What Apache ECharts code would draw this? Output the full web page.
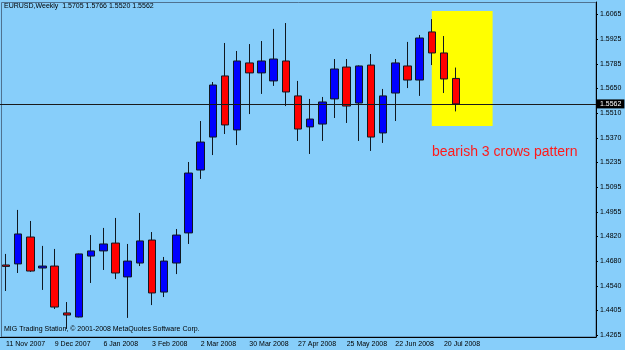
<!DOCTYPE html>
<html>
<head>
    <meta charset="utf-8">
    <style>
        html, body {
            width: 100%;
            height: 100%;
            margin: 0;
            background: #87cefa;
        }

        #chart-panel {
            width: 625px;
            height: 350px;
        }
    </style>
    <script src="https://cdn.jsdelivr.net/npm/echarts@6/dist/echarts.min.js"></script>
</head>
<body>
<div id="chart-panel"></div>
<script type="text/javascript">

  // weekly bars, EURUSD
  var weeks = ['11 Nov 2007', '18 Nov 2007', '25 Nov 2007', '2 Dec 2007', '9 Dec 2007', '16 Dec 2007',
    '23 Dec 2007', '30 Dec 2007', '6 Jan 2008', '13 Jan 2008', '20 Jan 2008', '27 Jan 2008',
    '3 Feb 2008', '10 Feb 2008', '17 Feb 2008', '24 Feb 2008', '2 Mar 2008', '9 Mar 2008',
    '16 Mar 2008', '23 Mar 2008', '30 Mar 2008', '6 Apr 2008', '13 Apr 2008', '20 Apr 2008',
    '27 Apr 2008', '4 May 2008', '11 May 2008', '18 May 2008', '25 May 2008', '1 Jun 2008',
    '8 Jun 2008', '15 Jun 2008', '22 Jun 2008', '29 Jun 2008', '6 Jul 2008', '13 Jul 2008',
    '20 Jul 2008', '27 Jul 2008'];
  // empty weeks on the right (chart shift)
  var emptyWeeks = ['3 Aug 2008', '10 Aug 2008', '17 Aug 2008', '24 Aug 2008', '31 Aug 2008',
    '7 Sep 2008', '14 Sep 2008', '21 Sep 2008', '28 Sep 2008', '5 Oct 2008', '12 Oct 2008'];

  var opens = [1.4658, 1.4664, 1.4815, 1.4641, 1.4652, 1.4389, 1.4366, 1.4708, 1.4737, 1.4781,
    1.4591, 1.4669, 1.4798, 1.4506, 1.4669, 1.4838, 1.5191, 1.5376, 1.5719, 1.5416,
    1.5792, 1.5736, 1.5691, 1.5803, 1.5607, 1.5433, 1.5449, 1.5590, 1.5769, 1.5567,
    1.5780, 1.5399, 1.5623, 1.5775, 1.5696, 1.5966, 1.5848, 1.5705];
  var highs = [1.4720, 1.4967, 1.4905, 1.4765, 1.4748, 1.4450, 1.4722, 1.4826, 1.4866, 1.4922,
    1.4776, 1.4950, 1.4843, 1.4703, 1.4860, 1.5236, 1.5466, 1.5685, 1.5904, 1.5859,
    1.5898, 1.5915, 1.5983, 1.6016, 1.5691, 1.5590, 1.5601, 1.5814, 1.5814, 1.5778,
    1.5842, 1.5646, 1.5814, 1.5910, 1.5949, 1.6038, 1.5943, 1.5766];
  var lows = [1.4512, 1.4613, 1.4619, 1.4518, 1.4411, 1.4299, 1.4364, 1.4557, 1.4630, 1.4579,
    1.4361, 1.4652, 1.4433, 1.4478, 1.4607, 1.4776, 1.5141, 1.5275, 1.5393, 1.5331,
    1.5505, 1.5618, 1.5663, 1.5550, 1.5354, 1.5281, 1.5354, 1.5483, 1.5455, 1.5354,
    1.5298, 1.5343, 1.5466, 1.5651, 1.5607, 1.5780, 1.5623, 1.5520];
  var closes = [1.4650, 1.4832, 1.4624, 1.4652, 1.4422, 1.4377, 1.4720, 1.4737, 1.4776, 1.4613,
    1.4680, 1.4793, 1.4501, 1.4680, 1.4826, 1.5174, 1.5348, 1.5668, 1.5444, 1.5803,
    1.5736, 1.5803, 1.5814, 1.5629, 1.5421, 1.5477, 1.5573, 1.5758, 1.5550, 1.5775,
    1.5376, 1.5607, 1.5792, 1.5696, 1.5932, 1.5848, 1.5702, 1.5562];

  var priceTicks = [1.4265, 1.4405, 1.4540, 1.4680, 1.4820, 1.4955, 1.5095, 1.5235,
    1.5370, 1.5510, 1.5650, 1.5785, 1.5925, 1.6065];
  var bidPrice = 1.5562;
  // yellow box: from week 35 to week 40, price range
  var boxWeeks = [35, 40];
  var boxPrices = [1.6084, 1.5438];

  var allWeeks = weeks.concat(emptyWeeks);
  var candles = weeks.map(function (w, i) {
    return [opens[i], closes[i], lows[i], highs[i]];
  });
  var last = weeks.length - 1;

  function showDate(idx) {
    return idx % 4 === 0 && idx < weeks.length;
  }

  var font = 'Liberation Sans';
  var myChart = echarts.init(document.getElementById('chart-panel'));

  var option = {
    backgroundColor: '#87cefa',
    animation: false,
    textStyle: {fontFamily: font},
    grid: {
      left: -3,
      right: 29,
      top: 2,
      bottom: 13
    },
    xAxis: {
      type: 'category',
      data: allWeeks,
      boundaryGap: true,
      axisLine: {lineStyle: {color: '#000', width: 1}},
      axisTick: {
        alignWithLabel: true,
        length: 3,
        interval: showDate,
        lineStyle: {color: '#000'}
      },
      axisLabel: {
        interval: showDate,
        align: 'left',
        margin: 4,
        fontSize: 7,
        color: '#000',
        fontFamily: font
      },
      splitLine: {show: false}
    },
    yAxis: {
      type: 'value',
      position: 'right',
      min: 1.42538,
      max: 1.6134,
      scale: true,
      axisLine: {show: true, lineStyle: {color: '#000', width: 1}},
      axisTick: {show: true, length: 2, customValues: priceTicks, lineStyle: {color: '#000'}},
      axisLabel: {
        customValues: priceTicks,
        margin: 4,
        fontSize: 7,
        color: '#000',
        fontFamily: font,
        formatter: function (v) { return v.toFixed(4); }
      },
      splitLine: {show: false}
    },
    graphic: [{
      type: 'rect',
      shape: {x: 1.5, y: 2.5, width: 594.5, height: 334.5},
      style: {fill: null, stroke: '#4f7290', lineWidth: 1},
      silent: true,
      z: 0
    }, {
      type: 'text',
      left: 4,
      top: 3,
      style: {
        text: 'EURUSD,Weekly  ' + opens[last].toFixed(4) + ' ' + highs[last].toFixed(4) + ' ' +
          lows[last].toFixed(4) + ' ' + closes[last].toFixed(4),
        font: '7px "Liberation Sans"',
        fill: '#000'
      }
    }, {
      type: 'text',
      left: 4,
      top: 326,
      style: {
        text: 'MIG Trading Station, © 2001-2008 MetaQuotes Software Corp.',
        font: '7px "Liberation Sans"',
        fill: '#000'
      }
    }, {
      type: 'text',
      left: 432,
      top: 145,
      style: {
        text: 'bearish 3 crows pattern',
        font: '14px "Liberation Sans"',
        fill: '#ff1a1a'
      },
      z: 10
    }],
    series: [{
      name: 'EURUSD',
      type: 'candlestick',
      data: candles,
      barWidth: 8,
      clip: true,
      itemStyle: {
        color: '#0000ff',
        color0: '#ff0000',
        borderColor: '#101820',
        borderColor0: '#101820',
        borderWidth: 1
      },
      markArea: {
        silent: true,
        itemStyle: {color: '#ffff00', opacity: 1},
        data: [[
          {coord: [allWeeks[boxWeeks[0]], boxPrices[0]]},
          {coord: [allWeeks[boxWeeks[1]], boxPrices[1]]}
        ]]
      },
      markLine: {
        silent: true,
        precision: 4,
        symbol: ['none', 'none'],
        lineStyle: {color: '#1a1a1a', width: 1, type: 'solid'},
        label: {
          position: 'end',
          distance: 1,
          formatter: bidPrice.toFixed(4),
          backgroundColor: '#000',
          color: '#fff',
          fontSize: 7,
          fontFamily: font,
          padding: [1, 3, 1, 3]
        },
        data: [{yAxis: bidPrice}]
      }
    }]
  };

  myChart.setOption(option);
</script>
</body>
</html>
